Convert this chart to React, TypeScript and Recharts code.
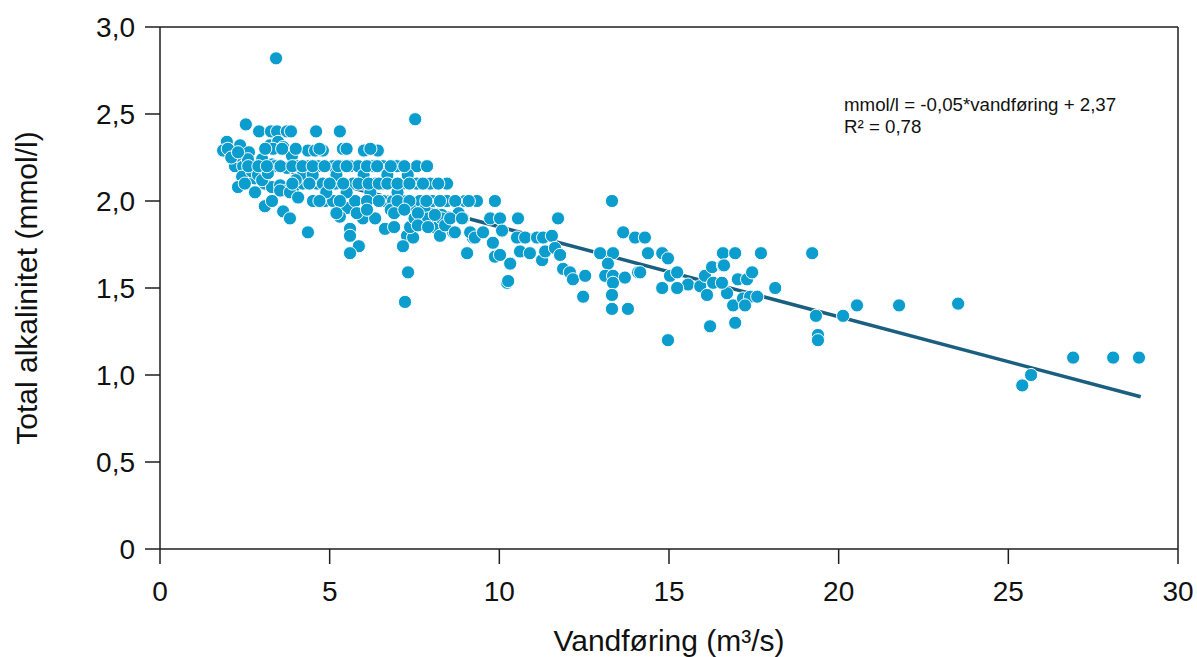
import React from 'react';
import {
  ScatterChart,
  Scatter,
  XAxis,
  YAxis,
  ReferenceLine,
} from 'recharts';

// Vandføring (m³/s) for each sample
const vandforing: number[] = [
  2.53, 2.92, 3.27, 3.45, 3.74, 3.86, 4.60, 5.30, 7.52, 3.42,
  1.97, 2.36, 2.06, 1.86, 2.62, 3.24, 3.48, 3.33, 3.63, 4.36, 4.57, 4.80, 5.39, 6.01, 6.42, 3.89,
  2.21, 2.45, 3.04, 3.30, 3.39, 3.74, 4.04, 4.36, 4.66, 5.10, 5.36, 5.60, 5.84, 6.28, 6.57, 6.98, 7.57, 7.87,
  2.42, 2.30, 2.80, 3.09, 3.30, 3.54, 3.74, 3.92,
  4.21, 4.63, 4.80, 5.16, 5.69, 5.98, 6.34, 6.57, 6.84, 7.16, 7.57, 7.96, 8.46,
  3.54, 3.83, 4.07,
  4.51, 4.86, 5.10, 5.51, 5.75, 5.98, 6.34, 6.57, 6.87, 7.16, 7.66, 8.02, 8.46, 8.99, 9.34,
  3.09, 3.63, 3.83, 4.36, 5.30, 5.60, 5.60, 5.86, 5.60, 7.28, 7.46, 7.37, 8.05, 8.25, 8.64, 8.93, 6.63, 7.16, 7.31, 9.05, 9.22, 7.22,
  2.71, 2.89, 3.01, 3.18, 2.59, 2.24, 3.01, 4.21, 4.90, 5.50, 6.20, 7.00, 7.40, 7.80, 8.30, 6.80, 4.50, 5.20, 6.00, 6.70, 7.30, 2.80, 3.30, 2.50, 4.00,
  7.50, 7.90, 8.30,
  3.90, 4.40, 5.00, 5.40, 5.85, 6.15, 6.45, 6.70, 7.00, 7.35, 7.75, 8.20,
  4.70, 5.30, 6.10, 6.45, 7.00, 7.35, 7.85, 8.25, 8.70, 9.10,
  2.60, 2.90, 3.15, 3.55, 3.90, 4.20, 4.50, 4.85, 5.25, 5.50, 6.10, 6.40, 6.80, 7.20,
  3.10, 3.60, 4.00, 4.70, 5.50, 6.20,
  5.20, 5.80, 6.10, 6.90, 7.20, 7.60, 8.10, 8.80,
  6.90, 7.60, 7.90, 8.40,
  2.00, 2.10, 2.30,
  9.87, 13.32,
  8.55, 8.90, 9.73, 10.02, 10.55, 11.73,
  8.69, 9.14, 9.28, 9.52, 9.81, 10.08, 10.52, 10.76, 11.11, 11.29, 11.55,
  9.87, 10.02, 10.32, 10.23, 10.26,
  10.61, 10.90, 11.26, 11.35, 11.64, 11.79, 11.88, 12.08, 12.17, 12.53, 12.47,
  12.97, 13.35, 13.20, 13.12, 13.35, 13.35, 13.32, 13.32, 13.70, 13.79,
  13.65, 14.00, 14.29, 14.09, 14.15,
  14.38, 14.80, 14.97, 15.03, 15.24, 15.56, 14.80, 15.24, 14.97,
  15.92, 16.12, 16.06, 16.27, 16.30, 16.59, 16.59, 16.95, 16.71, 16.89, 16.95, 16.21,
  17.71, 19.22, 16.62, 16.56, 17.03, 17.30, 17.45, 17.18, 17.39, 17.60, 17.24, 18.13,
  19.33, 19.39, 19.39, 20.13, 20.54, 21.78, 23.52, 25.41, 25.67, 26.91, 28.09, 28.85,
];

// Total alkalinitet (mmol/l) for each sample
const alkalinitet: number[] = [
  2.44, 2.40, 2.40, 2.40, 2.40, 2.40, 2.40, 2.40, 2.47, 2.82,
  2.34, 2.32, 2.29, 2.29, 2.28, 2.32, 2.34, 2.30, 2.31, 2.29, 2.29, 2.29, 2.30, 2.29, 2.29, 2.26,
  2.20, 2.20, 2.22, 2.21, 2.20, 2.19, 2.20, 2.20, 2.20, 2.20, 2.20, 2.20, 2.20, 2.20, 2.20, 2.20, 2.20, 2.20,
  2.14, 2.08, 2.13, 2.10, 2.08, 2.09, 2.06, 2.07,
  2.10, 2.10, 2.10, 2.10, 2.10, 2.10, 2.10, 2.10, 2.10, 2.10, 2.10, 2.10, 2.10,
  2.06, 2.05, 2.02,
  2.00, 2.00, 2.00, 1.96, 2.00, 1.90, 1.90, 2.00, 2.00, 2.00, 2.00, 2.00, 2.00, 2.00, 2.00,
  1.97, 1.94, 1.90, 1.82, 1.91, 1.84, 1.80, 1.74, 1.70, 1.80, 1.79, 1.85, 1.85, 1.80, 1.82, 1.90, 1.84, 1.74, 1.59, 1.70, 1.79, 1.42,
  2.17, 2.15, 2.12, 2.16, 2.24, 2.26, 2.24, 2.15, 2.05, 2.05, 2.05, 2.05, 1.95, 1.95, 1.92, 1.95, 2.15, 2.15, 2.15, 2.15, 2.15, 2.05, 2.00, 2.10, 2.12,
  1.90, 1.90, 1.90,
  2.10, 2.10, 2.10, 2.10, 2.10, 2.10, 2.10, 2.10, 2.10, 2.10, 2.10, 2.10,
  2.00, 2.00, 2.00, 2.00, 2.00, 2.00, 2.00, 2.00, 2.00, 2.00,
  2.20, 2.20, 2.20, 2.20, 2.20, 2.20, 2.20, 2.20, 2.20, 2.20, 2.20, 2.20, 2.20, 2.20,
  2.30, 2.30, 2.30, 2.30, 2.30, 2.30,
  1.93, 1.93, 1.95, 1.93, 1.95, 1.93, 1.92, 1.93,
  1.85, 1.86, 1.85, 1.86,
  2.30, 2.25, 2.28,
  2.00, 2.00,
  1.90, 1.90, 1.90, 1.90, 1.90, 1.90,
  1.82, 1.82, 1.79, 1.82, 1.76, 1.83, 1.79, 1.79, 1.79, 1.79, 1.80,
  1.68, 1.69, 1.64, 1.53, 1.54,
  1.71, 1.70, 1.66, 1.71, 1.73, 1.69, 1.61, 1.59, 1.55, 1.57, 1.45,
  1.70, 1.70, 1.64, 1.57, 1.57, 1.53, 1.46, 1.38, 1.56, 1.38,
  1.82, 1.79, 1.79, 1.59, 1.59,
  1.70, 1.70, 1.67, 1.57, 1.59, 1.52, 1.50, 1.50, 1.20,
  1.51, 1.46, 1.57, 1.62, 1.53, 1.63, 1.70, 1.70, 1.47, 1.40, 1.30, 1.28,
  1.70, 1.70, 1.63, 1.53, 1.55, 1.55, 1.59, 1.44, 1.45, 1.45, 1.40, 1.50,
  1.34, 1.23, 1.20, 1.34, 1.40, 1.40, 1.41, 0.94, 1.00, 1.10, 1.10, 1.10,
];

// Linear trend line end points
const trendX: number[] = [1.9, 28.9];
const trendY: number[] = [2.27, 0.875];

const xTicks: number[] = [0, 5, 10, 15, 20, 25, 30];
const yTicks: number[] = [0, 0.5, 1, 1.5, 2, 2.5, 3];

const equationLine = 'mmol/l = -0,05*vandføring + 2,37';
const r2Line = 'R² = 0,78';
const xTitle = 'Vandføring (m³/s)';
const yTitle = 'Total alkalinitet (mmol/l)';

const points = vandforing.map((x, i) => ({ x, y: alkalinitet[i] }));
const trend = trendX.map((x, i) => ({ x, y: trendY[i] }));

const FONT = '"Liberation Sans", Arial, Helvetica, sans-serif';
const DOT = '#0a9dce';
const LINE = '#1b5f80';
const AXIS = '#1e1e1e';

const Dot = (props: any) => {
  const { cx, cy } = props;
  if (cx == null || cy == null) return <g />;
  return <circle cx={cx} cy={cy} r={6.6} fill={DOT} stroke="#ffffff" strokeWidth={1} />;
};

const Empty = () => <g />;

const fmtY = (v: number) => (v === 0 ? '0' : v.toFixed(1).replace('.', ','));

export default function App() {
  return (
    <div
      style={{
        position: 'absolute',
        left: 0,
        top: 0,
        width: 1197,
        height: 657,
        background: '#fff',
        fontFamily: FONT,
      }}
    >
      <ScatterChart
        width={1197}
        height={657}
        margin={{ top: 27, right: 19, left: 0, bottom: 0 }}
        style={{ fontFamily: FONT }}
      >
        <XAxis
          type="number"
          dataKey="x"
          domain={[0, 30]}
          ticks={xTicks}
          interval={0}
          allowDataOverflow
          height={108}
          tickSize={15}
          tickMargin={17}
          tick={{ fontSize: 28, fill: '#111', fontFamily: FONT }}
          axisLine={{ stroke: AXIS, strokeWidth: 1.5 }}
          tickLine={{ stroke: AXIS, strokeWidth: 1.5 }}
          label={{
            value: xTitle,
            position: 'insideBottom',
            offset: 6,
            fontSize: 30,
            fill: '#111',
            fontFamily: FONT,
          }}
        />
        <YAxis
          type="number"
          dataKey="y"
          domain={[0, 3]}
          ticks={yTicks}
          interval={0}
          allowDataOverflow
          width={160}
          tickSize={15}
          tickMargin={10}
          tickFormatter={fmtY}
          tick={{ fontSize: 28, fill: '#111', fontFamily: FONT }}
          axisLine={{ stroke: AXIS, strokeWidth: 1.5 }}
          tickLine={{ stroke: AXIS, strokeWidth: 1.5 }}
          label={{
            value: yTitle,
            angle: -90,
            position: 'insideLeft',
            offset: 26,
            fontSize: 30,
            fill: '#111',
            fontFamily: FONT,
            style: { textAnchor: 'middle' },
          }}
        />
        <ReferenceLine y={3} stroke={AXIS} strokeWidth={1.5} ifOverflow="extendDomain" />
        <ReferenceLine x={30} stroke={AXIS} strokeWidth={1.5} ifOverflow="extendDomain" />
        <Scatter
          data={trend}
          line={{ stroke: LINE, strokeWidth: 3.5 }}
          shape={Empty}
          isAnimationActive={false}
          legendType="none"
        />
        <Scatter data={points} shape={Dot} isAnimationActive={false} />
      </ScatterChart>
      <div
        style={{
          position: 'absolute',
          left: 844,
          top: 94,
          fontSize: 18.7,
          lineHeight: '22px',
          color: '#111',
          fontFamily: FONT,
          whiteSpace: 'nowrap',
        }}
      >
        <div>{equationLine}</div>
        <div>{r2Line}</div>
      </div>
    </div>
  );
}
